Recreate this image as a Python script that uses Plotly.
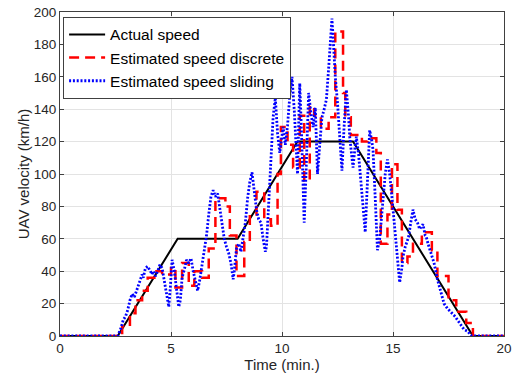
import plotly.graph_objects as go

# Actual speed profile
actual_t = [0, 2.6, 5.3, 8.0, 10.7, 13.2, 18.6, 20]
actual_v = [0, 0, 60, 60, 120, 120, 0, 0]

# Discrete estimate (step values, held until next time)
disc_t = [0, 2.6, 2.8, 3.15, 3.4, 3.7, 3.95, 4.25, 4.6, 5.0, 5.2, 5.5, 5.8, 6.05, 6.4, 6.7,
          7.0, 7.45, 7.65, 7.95, 8.3, 8.55, 8.85, 9.2, 9.5, 9.8, 9.95, 10.25, 10.5, 10.8,
          11.0, 11.25, 11.45, 11.75, 12.1, 12.4, 12.75, 12.85, 13.1, 13.6, 13.85, 14.25,
          14.45, 14.75, 14.95, 15.2, 15.4, 15.65, 15.9, 16.3, 16.75, 17.0, 17.2, 17.5,
          17.85, 18.3, 18.6, 20]
disc_v = [0, 0, 6, 14, 22, 28, 36, 40, 38, 42, 30, 45, 31, 40, 36, 54,
          85, 80, 62, 37, 58, 75, 89, 72, 68, 100, 129, 118, 104, 136,
          96, 142, 136, 128, 135, 188, 150, 135, 124, 120, 122, 113,
          57, 75, 106, 78, 45, 49, 57, 64, 53, 37, 37, 22,
          15, 8, 0, 0]

# Sliding-window estimate
slide_t = [0, 2.6, 2.75, 2.85, 2.95, 3.05, 3.15, 3.25, 3.35, 3.45, 3.55, 3.6, 3.7, 3.75,
           3.85, 3.95, 4.05, 4.15, 4.2, 4.3, 4.4, 4.5, 4.6, 4.7, 4.8, 4.9, 4.97, 5.05,
           5.15, 5.25, 5.35, 5.42, 5.5, 5.6, 5.7, 5.8, 5.9, 6.0, 6.1, 6.2, 6.3, 6.4,
           6.5, 6.6, 6.7, 6.8, 6.9, 7.0, 7.1, 7.2, 7.3, 7.4, 7.5, 7.6, 7.7, 7.8, 7.85,
           7.95, 8.05, 8.15, 8.25, 8.35, 8.45, 8.55, 8.65, 8.75, 8.85, 8.95, 9.05, 9.15,
           9.25, 9.3, 9.4, 9.5, 9.6, 9.7, 9.8, 9.9, 10.0, 10.05, 10.15, 10.25, 10.35,
           10.45, 10.55, 10.65, 10.7, 10.75, 10.8, 10.88, 10.95, 11.0, 11.08, 11.15, 11.2,
           11.3, 11.4, 11.5, 11.6, 11.7, 11.8, 11.9, 12.0, 12.1, 12.18, 12.25, 12.32,
           12.4, 12.5, 12.6, 12.7, 12.8, 12.9, 13.0, 13.05, 13.15, 13.2, 13.3, 13.35,
           13.45, 13.5, 13.6, 13.7, 13.75, 13.8, 13.9, 13.95, 14.05, 14.1, 14.2, 14.3,
           14.4, 14.5, 14.55, 14.65, 14.75, 14.85, 14.95, 15.05, 15.1, 15.2, 15.25, 15.3,
           15.4, 15.45, 15.55, 15.7, 15.8, 15.9, 16.0, 16.1, 16.2, 16.35, 16.45, 16.5,
           16.6, 16.75, 16.85, 17.0, 17.1, 17.2, 17.3, 17.45, 17.65, 17.8, 17.95, 18.1,
           18.2, 18.35, 18.5, 18.55, 20]
slide_v = [0, 0, 5, 10, 12, 16, 22, 26, 24, 28, 32, 35, 38, 36,
           42, 43, 40, 38, 40, 37, 40, 44, 42, 33, 24, 18, 30, 47,
           40, 28, 18, 22, 36, 41, 47, 45, 48, 40, 33, 28, 35, 44,
           53, 62, 75, 86, 90, 86, 88, 78, 68, 60, 55, 51, 45, 35, 40,
           54, 57, 52, 61, 70, 85, 95, 101, 90, 78, 72, 70, 60,
           52, 55, 80, 110, 135, 147, 125, 113, 125, 129, 118, 130, 148,
           160, 140, 110, 100, 130, 156, 125, 90, 70, 100, 130, 150,
           138, 129, 141, 100, 118, 135, 140, 146, 165, 185, 196, 180,
           160, 144, 120, 102, 130, 152, 135, 123, 110, 104, 118, 123,
           112, 104, 85, 70, 64, 80, 115, 127, 120, 115, 85, 53,
           60, 75, 86, 100, 109, 100, 86, 70, 61, 45, 36, 33,
           42, 49, 55, 61, 70, 78, 72, 70, 66, 69, 62, 61,
           56, 50, 45, 35, 30, 25, 20, 17, 14, 12, 9, 6,
           4, 3, 1, 0, 0]

x_ticks = [0, 5, 10, 15, 20]
y_ticks = [0, 20, 40, 60, 80, 100, 120, 140, 160, 180, 200]

FONT = "Liberation Sans, Arial, sans-serif"

fig = go.Figure()
fig.add_trace(go.Scatter(x=actual_t, y=actual_v, mode="lines", name="Actual speed",
                         line=dict(color="black", width=2)))
fig.add_trace(go.Scatter(x=disc_t, y=disc_v, mode="lines", name="Estimated speed discrete",
                         line=dict(color="#ff0000", width=2.5, dash="10px,6px", shape="hv")))
fig.add_trace(go.Scatter(x=slide_t, y=slide_v, mode="lines", name="Estimated speed sliding",
                         line=dict(color="#0000ff", width=2.8, dash="2px,1.8px")))

axis_common = dict(showline=True, linecolor="#404040", linewidth=1, mirror="ticks",
                   ticks="inside", ticklen=4, tickcolor="#404040", automargin=False,
                   showgrid=True, gridcolor="#e3e3e3", gridwidth=1, zeroline=False,
                   tickfont=dict(family=FONT, size=13.5, color="#262626"))

fig.update_xaxes(range=[0, 20], tickvals=x_ticks, ticktext=[str(v) for v in x_ticks],
                 title=dict(text="Time (min.)", font=dict(family=FONT, size=15, color="#262626"),
                            standoff=2),
                 **axis_common)
fig.update_yaxes(range=[0, 200], tickvals=y_ticks, ticktext=[str(v) for v in y_ticks],
                 title=dict(text="UAV velocity (km/h)", font=dict(family=FONT, size=15, color="#262626"),
                            standoff=0),
                 **axis_common)

fig.update_layout(
    width=513, height=381,
    margin=dict(l=60, r=9, t=12, b=45),
    plot_bgcolor="white", paper_bgcolor="white",
    font=dict(family=FONT, color="#262626"),
    legend=dict(x=0.007, y=0.985, xanchor="left", yanchor="top",
                bgcolor="white", bordercolor="#404040", borderwidth=1,
                font=dict(family=FONT, size=15.5, color="black"),
                tracegroupgap=0, itemwidth=36),
    showlegend=True,
)

fig.write_html("out.html")
